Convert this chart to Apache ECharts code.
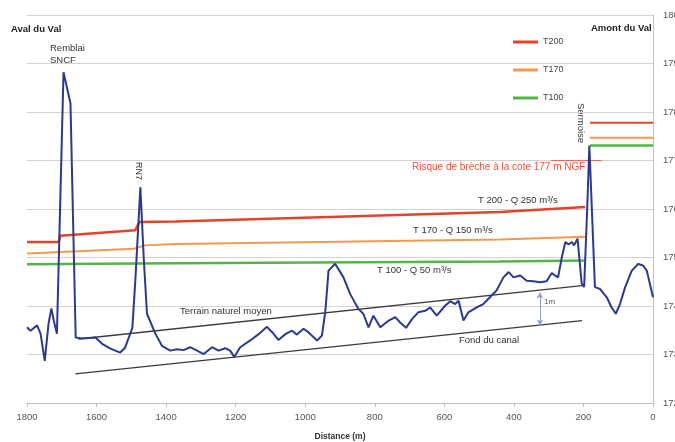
<!DOCTYPE html>
<html><head><meta charset="utf-8">
<script src="https://cdn.jsdelivr.net/npm/echarts@6/dist/echarts.min.js"></script>
<style>html,body{margin:0;padding:0;background:#fff}#c{width:675px;height:442px}</style>
</head><body><div id="c"></div>
<script>
// Distance (m) / level (m NGF)
const profile = [
 [1800,173.56],[1790,173.49],[1771,173.60],[1761,173.43],[1749,172.87],[1738,173.64],[1730,173.95],[1723,173.70],
 [1714,173.43],[1695,178.82],[1690,178.66],[1675,178.18],[1660,173.35],[1641,173.33],[1603,173.35],[1584,173.22],
 [1560,173.12],[1532,173.04],[1518,173.14],[1497,173.55],[1488,174.59],[1474,176.45],[1464,174.94],[1455,173.84],
 [1431,173.43],[1412,173.18],[1388,173.08],[1369,173.11],[1350,173.09],[1331,173.15],[1311,173.08],[1292,173.01],
 [1268,173.15],[1249,173.08],[1230,173.13],[1216,173.08],[1204,172.95],[1187,173.15],[1158,173.29],[1134,173.42],
 [1110,173.57],[1095,173.46],[1077,173.30],[1057,173.42],[1038,173.49],[1024,173.41],[1005,173.53],[991,173.46],
 [966,173.29],[952,173.39],[942,173.90],[933,174.73],[914,174.87],[890,174.59],[871,174.25],[847,173.94],
 [833,173.84],[818,173.56],[804,173.80],[784,173.56],[760,173.70],[741,173.77],[727,173.66],[710,173.55],
 [693,173.73],[675,173.87],[655,173.90],[641,173.97],[622,173.80],[597,174.01],[583,174.10],[569,174.04],
 [559,174.11],[545,173.70],[531,173.87],[507,173.97],[488,174.04],[469,174.18],[450,174.32],[430,174.59],
 [415,174.70],[401,174.59],[382,174.63],[363,174.52],[344,174.51],[325,174.49],[306,174.51],[291,174.68],
 [282,174.63],[273,174.59],[262,175.01],[252,175.32],[243,175.27],[233,175.32],[227,175.25],[217,175.39],
 [205,174.46],[198,174.39],[189,176.04],[183,177.31],[167,174.39],[152,174.35],[133,174.18],[119,173.97],
 [107,173.84],[95,174.04],[80,174.39],[61,174.73],[42,174.87],[28,174.83],[18,174.73],[9,174.46],[0,174.18]
];
const t200 = [[1800,175.32],[1709,175.32],[1704,175.45],[1489,175.56],[1477,175.73],[1374,175.74],[440,175.94],[195,176.04]];
const t170 = [[1800,175.08],[1492,175.18],[1463,175.25],[1374,175.28],[440,175.37],[195,175.43]];
const t100 = [[1800,174.86],[1374,174.88],[440,174.92],[195,174.94]];
const t200Upstream = [[181,177.78],[0,177.78]];
const t170Upstream = [[181,177.47],[0,177.47]];
const t100Upstream = [[181,177.31],[0,177.31]];
const breachLevel = [[293,177],[147,177]];
const terrainMoyen = [[1652,173.32],[204,174.42]];
const fondCanal = [[1661,172.60],[204,173.70]];
const oneMetre = [[325,174.28],[325,173.60]];
const xTicks = {min:0, max:1800, interval:200};
const yTicks = {min:172, max:180, interval:1};

const F = 'Liberation Sans';
const chart = echarts.init(document.getElementById('c'), null, {renderer:'canvas'});
const RED='#e3432b', ORANGE='#f29a4d', GREEN='#52b548', BLUE='#2c3a8c';
function seg(name,data,color,width){return {name,type:'line',data,symbol:'none',lineStyle:{color,width},itemStyle:{color},z:2,silent:true};}
function txt(x,y,text,opt,rot){const o={type:'text',x,y,style:Object.assign({text,font:'9.5px '+F,fill:'#333',verticalAlign:'middle',align:'left'},opt||{})}; if(rot) o.rotation=rot; return o;}
chart.setOption({
 animation:false,
 grid:{left:27,right:22,top:15,bottom:39,containLabel:false,outerBoundsMode:'none'},
 legend:{orient:'vertical',left:508,top:31,itemGap:16,itemTextGap:3,icon:'rect',itemWidth:25,itemHeight:3,
   textStyle:{fontFamily:F,fontSize:9,color:'#444',lineHeight:12},data:['T200','T170','T100']},
 xAxis:{type:'value',inverse:true,min:xTicks.min,max:xTicks.max,interval:xTicks.interval,
   axisLine:{show:true,lineStyle:{color:'#c9bdb8'}},axisTick:{show:true,length:4,lineStyle:{color:'#c9bdb8'}},
   splitLine:{show:false},axisLabel:{fontFamily:F,fontSize:9.5,color:'#555',margin:9,formatter:v=>String(v)},
   name:'Distance (m)',nameLocation:'middle',nameGap:29,nameTextStyle:{fontFamily:F,fontSize:8.5,fontWeight:'bold',color:'#333'}},
 yAxis:{type:'value',position:'right',min:yTicks.min,max:yTicks.max,interval:yTicks.interval,
   axisLine:{show:true,lineStyle:{color:'#c9bdb8'}},axisTick:{show:false},
   splitLine:{lineStyle:{color:'#dcd0cb',width:1.2}},axisLabel:{fontFamily:F,fontSize:9.5,color:'#555',margin:10,formatter:v=>String(v)}},
 series:[
   seg('T200',t200,RED,2.5), seg('T170',t170,ORANGE,2), seg('T100',t100,GREEN,2.5),
   seg('T200',t200Upstream,RED,2), seg('T170',t170Upstream,ORANGE,2), seg('T100',t100Upstream,GREEN,2.5),
   seg('breach',breachLevel,'#ea6a55',1.2),
   seg('terrain',terrainMoyen,'#3a3a3a',1.3), seg('fond',fondCanal,'#3a3a3a',1.3),
   {name:'1m',type:'line',data:oneMetre,symbol:'none',lineStyle:{opacity:0},silent:true,
    markLine:{silent:true,symbol:['arrow','arrow'],symbolSize:[5,6],label:{show:false},
      lineStyle:{color:'#8d9bd6',width:1,type:'solid'},data:[[{coord:oneMetre[0]},{coord:oneMetre[1]}]]}},
   {name:'profil',type:'line',data:profile,symbol:'none',lineStyle:{color:BLUE,width:2},z:5,silent:true}
 ],
 graphic:[
   txt(11,29,'Aval du Val',{font:'bold 9.5px '+F,fill:'#222'}),
   txt(591,28,'Amont du Val',{font:'bold 9.5px '+F,fill:'#222'}),
   txt(50,48,'Remblai',{font:'9.5px '+F}),
   txt(50,60,'SNCF',{font:'9.5px '+F}),
   txt(138,162,'RN7',{font:'9px '+F},-Math.PI/2),
   txt(581,103,'Sermoise',{font:'9.5px '+F},-Math.PI/2),
   txt(412,167,'Risque de brèche à la cote 177 m NGF',{font:'10px '+F,fill:'#e5543c'}),
   txt(478,200,'T 200 - Q 250 m³/s',{font:'9.5px '+F}),
   txt(413,230,'T 170 - Q 150 m³/s',{font:'9.5px '+F}),
   txt(377,270,'T 100 - Q 50 m³/s',{font:'9.5px '+F}),
   txt(180,311,'Terrain naturel moyen',{font:'9.5px '+F}),
   txt(459,340,'Fond du canal',{font:'9.5px '+F}),
   txt(544,302,'1m',{font:'8px '+F,fill:'#555'})
 ]
});
</script></body></html>
